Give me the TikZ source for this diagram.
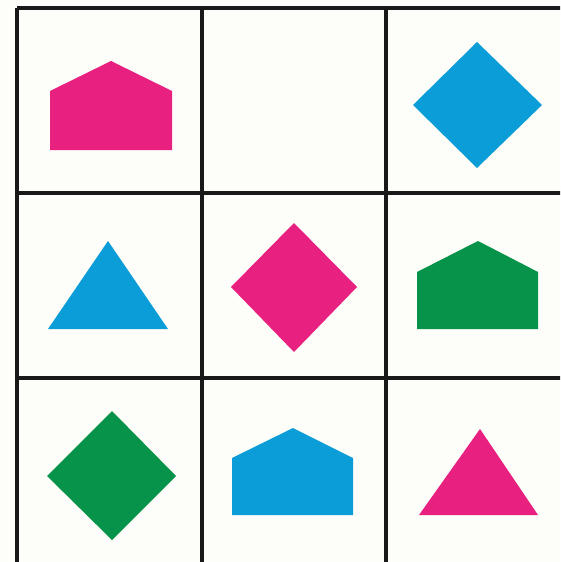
\documentclass[tikz,border=0pt]{standalone}
\definecolor{pinkc}{HTML}{E8207F}
\definecolor{bluec}{HTML}{0A9DD7}
\definecolor{greenc}{HTML}{07934A}
\definecolor{bgc}{HTML}{FDFDFA}
\tikzset{
  gridline/.style={line width=3.5pt, black!90},
  pinkshape/.style={fill=pinkc},
  blueshape/.style={fill=bluec},
  greenshape/.style={fill=greenc}
}
\begin{document}
\begin{tikzpicture}[x=1pt,y=-1pt]
\useasboundingbox (0,0) rectangle (560,562);
\clip (0,0) rectangle (560,562);
\fill[bgc] (0,0) rectangle (560,562);
% grid
\draw[gridline] (17,8) -- (575,8);
\draw[gridline] (17,193) -- (575,193);
\draw[gridline] (17,378) -- (575,378);
\draw[gridline] (17,8) -- (17,570);
\draw[gridline] (202,8) -- (202,570);
\draw[gridline] (386,8) -- (386,570);
% row 1
\fill[pinkshape] (50,150) -- (50,91) -- (111,61) -- (172,91) -- (172,150) -- cycle;
\fill[blueshape] (477,42) -- (542,105) -- (477,168) -- (413,105) -- cycle;
% row 2
\fill[blueshape] (108,241) -- (168,329) -- (48,329) -- cycle;
\fill[pinkshape] (294,223) -- (357,287) -- (294,352) -- (231,287) -- cycle;
\fill[greenshape] (417,329) -- (417,272) -- (478,241) -- (538,272) -- (538,329) -- cycle;
% row 3
\fill[greenshape] (112,411) -- (176,476) -- (112,540) -- (47,476) -- cycle;
\fill[blueshape] (232,515) -- (232,458) -- (293,428) -- (353,458) -- (353,515) -- cycle;
\fill[pinkshape] (480,429) -- (538,515) -- (419,515) -- cycle;
\end{tikzpicture}
\end{document}
